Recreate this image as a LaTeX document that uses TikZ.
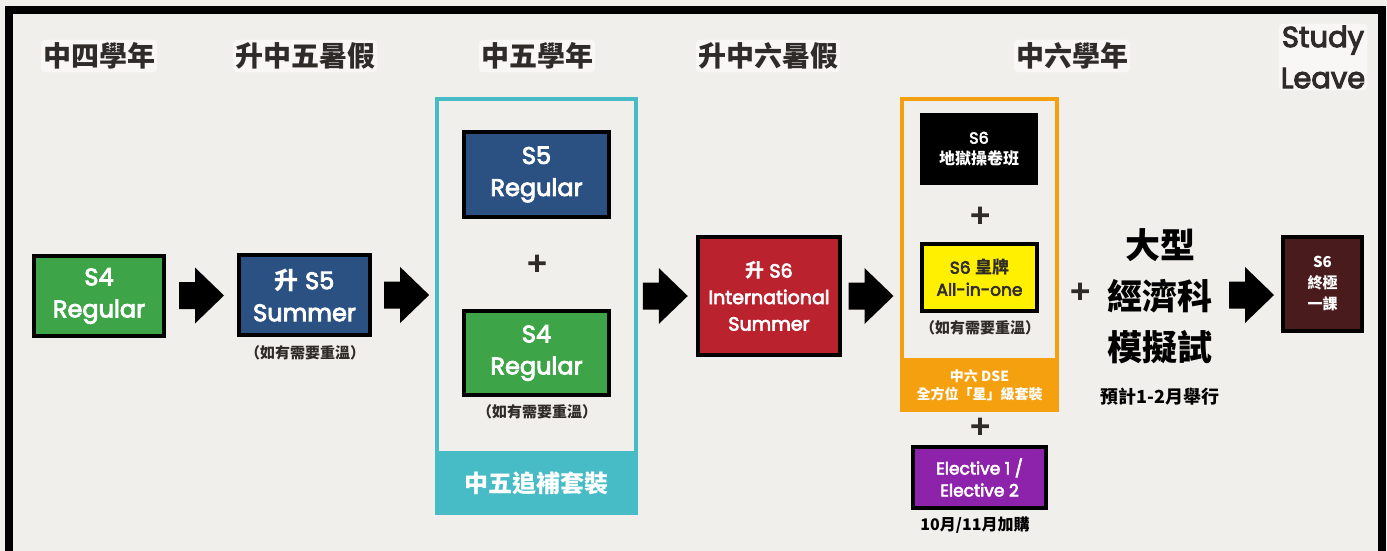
\documentclass[tikz,border=0pt]{standalone}
\usepackage{fontspec}
\setmainfont{Poppins}[FakeBold=3.5]
\newfontfamily\cjk{Noto Sans CJK TC}
\usetikzlibrary{calc}
\definecolor{bgc}{HTML}{F1EFEB}
\definecolor{hdrc}{HTML}{2F2B28}
\definecolor{grn}{HTML}{3DA447}
\definecolor{blu}{HTML}{2A5182}
\definecolor{tealc}{HTML}{47BCC6}
\definecolor{redc}{HTML}{BA232E}
\definecolor{orc}{HTML}{F4A00F}
\definecolor{yel}{HTML}{FFF000}
\definecolor{pur}{HTML}{8E23AB}
\definecolor{brn}{HTML}{4A1B1D}
\newcommand\fs[2]{\fontsize{#1}{#2}\selectfont}
\newcommand\zh[1]{{\cjk\bfseries #1}}
\tikzset{
  box/.style={draw=black, line width=4pt, inner sep=0pt, align=center, text=white},
  hdr/.style={font=\cjk\bfseries\fs{28}{30}, text=hdrc, fill=white, fill opacity=0.5, text opacity=1, rounded corners=4pt, inner xsep=2pt, inner ysep=3pt},
  note/.style={font=\cjk\bfseries\fs{15}{18}, text=hdrc, inner sep=0pt},
  plussign/.style={font=\fs{32}{34}, text=hdrc, inner sep=0pt},
  blockarr/.pic={\fill[black] (-22.5,-13.5) -- (-6.5,-13.5) -- (-6.5,-28) -- (22.5,0) -- (-6.5,28) -- (-6.5,13.5) -- (-22.5,13.5) -- cycle;}
}
\begin{document}
\begin{tikzpicture}[x=1pt,y=-1pt]
\useasboundingbox (0,0) rectangle (1387,551);
\fill[bgc] (0,0) rectangle (1387,551);
\draw[black, line width=8pt] (9,10) rectangle (1382,556);

% headers
\node[hdr] (h1) at (99,56) {中四學年};
\node[hdr] (h2) at (305,56) {升中五暑假};
\node[hdr] (h3) at (537,56) {中五學年};
\node[hdr] (h4) at (768,56) {升中六暑假};
\node[hdr] (h5) at (1072,56) {中六學年};
\node[font=\fs{29}{41}, text=hdrc, fill=white, fill opacity=0.5, text opacity=1, rounded corners=4pt, inner sep=2pt, align=center] (sl) at (1323,57) {Study\\Leave};

% S4
\node[box, fill=grn, minimum width=130, minimum height=80, font=\fs{24}{32}] (s4) at (99,296) {S4\\Regular};
% S5 summer
\node[box, fill=blu, minimum width=131, minimum height=80, font=\fs{24}{32}] (s5s) at (304.5,295) {\zh{升} S5\\Summer};
\node[note] (n1) at (305,353) {（如有需要重溫）};

% teal pack
\node[draw=tealc, line width=4pt, minimum width=199, minimum height=414, inner sep=0pt] (pack5) at (536.5,306) {};
\node[fill=tealc, minimum width=203, minimum height=64, inner sep=0pt, text=white, font=\cjk\bfseries\fs{24}{26}] (pack5lbl) at (536.5,483) {中五追補套裝};
\node[box, fill=blu, minimum width=145, minimum height=85, font=\fs{24}{32}] (s5r) at (536.5,174.5) {S5\\Regular};
\node[plussign] (p1) at (537,265) {+};
\node[box, fill=grn, minimum width=145, minimum height=84, font=\fs{24}{32}] (s4r) at (536.5,353) {S4\\Regular};
\node[note] (n2) at (537,412) {（如有需要重溫）};

% red
\node[box, fill=redc, minimum width=142, minimum height=118, font=\fs{19}{26.5}] (s6i) at (769,296) {\zh{升} S6\\International\\Summer};

% orange pack
\node[draw=orc, line width=4pt, minimum width=155, minimum height=311, inner sep=0pt] (pack6) at (979.5,254.5) {};
\node[fill=orc, minimum width=159, minimum height=54, inner sep=0pt, text=white, align=center, font=\cjk\bfseries\fs{14}{18}] (pack6lbl) at (979.5,385) {中六 DSE\\全方位「星」級套裝};
\node[fill=black, minimum width=118, minimum height=72, inner sep=0pt, text=white, align=center, font=\fs{16}{21}] (hell) at (979,149) {S6\\\zh{地獄操卷班}};
\node[plussign] (p2) at (980,217) {+};
\node[box, fill=yel, text=hdrc, minimum width=115, minimum height=67, font=\fs{17}{22}] (ace) at (979.5,277.5) {S6 \zh{皇牌}\\All-in-one};
\node[note] (n3) at (980,328) {（如有需要重溫）};
\node[plussign] (p3) at (980,428) {+};
\node[box, fill=pur, minimum width=133, minimum height=61, font=\fs{17}{22}] (elec) at (979.5,477.5) {Elective 1 /\\Elective 2};
\node[note, text=black, font=\cjk\bfseries\fs{16}{18}] (n4) at (975,525) {10月/11月加購};

% mock exam
\node[plussign] (p4) at (1080,293) {+};
\node[align=center, text=black, font=\cjk\bfseries\fs{35}{51}, inner sep=0pt] (mock) at (1160,296) {大型\\經濟科\\模擬試};
\node[text=black, font=\cjk\bfseries\fs{18}{20}, inner sep=0pt] (n5) at (1160,397) {預計1-2月舉行};

% final
\node[box, fill=brn, minimum width=79, minimum height=94, font=\cjk\bfseries\fs{15}{21}] (fin) at (1322.5,284) {S6\\終極\\一課};

% arrows
\pic at ($(s4.east)!0.5!(s5s.west)$) {blockarr};
\pic at ($(s5s.east)!0.55!(pack5.west |- s5s.east)$) {blockarr};
\pic at ($(pack5.east |- s6i.west)!0.47!(s6i.west)$) {blockarr};
\pic at ($(s6i.east)!0.5!(pack6.west |- s6i.east)$) {blockarr};
\pic at ($(fin.west)+(-29.5,11)$) {blockarr};
\end{tikzpicture}
\end{document}
